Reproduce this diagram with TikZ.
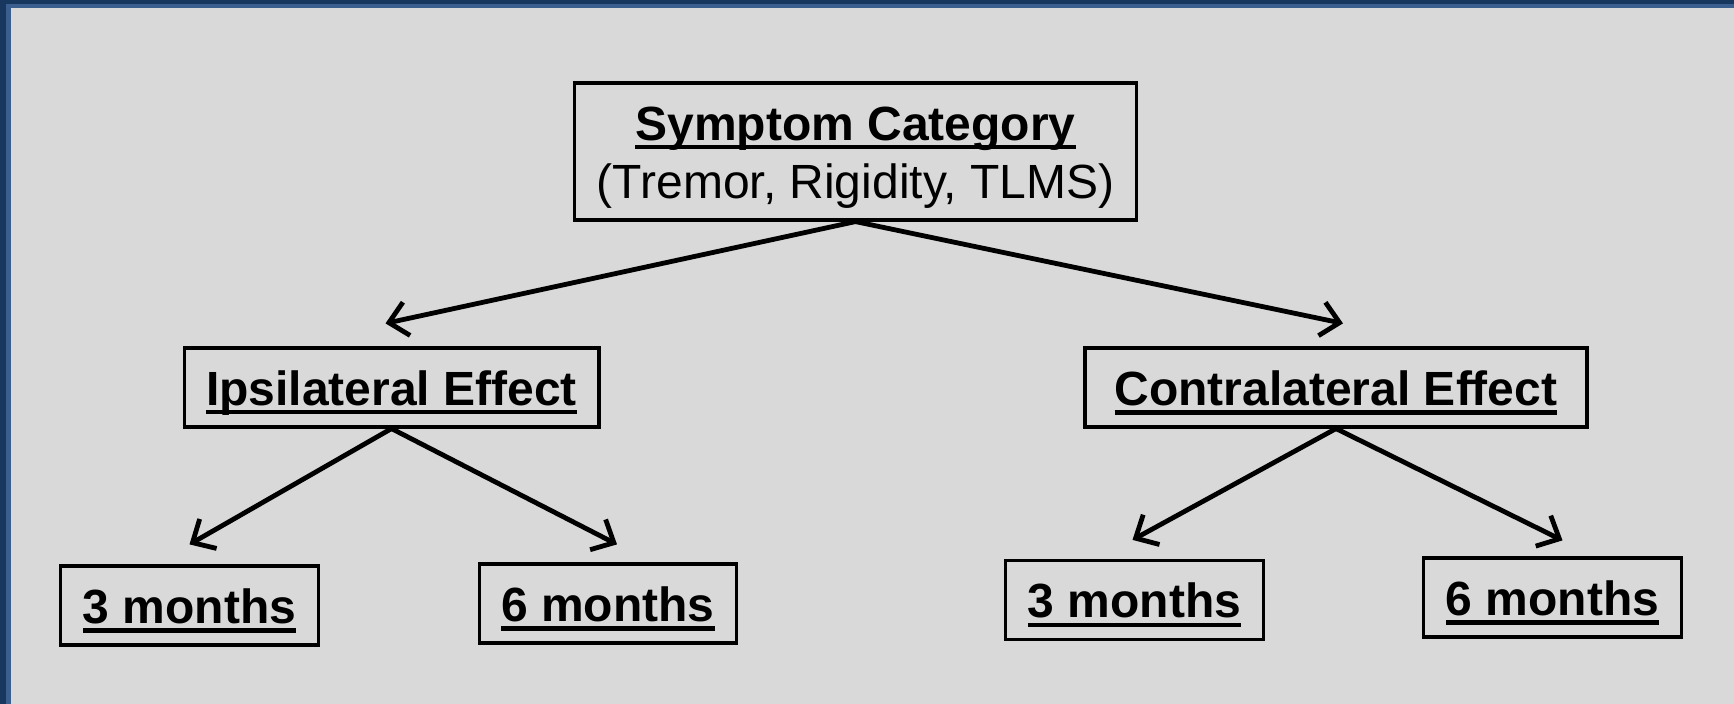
\documentclass[tikz,border=0pt]{standalone}
\usepackage{fontspec}
\setmainfont{Liberation Sans}
\usetikzlibrary{arrows.meta}

\definecolor{slidenavy}{HTML}{17375E}
\definecolor{slideblue}{HTML}{3A5F8E}
\definecolor{slidegrey}{HTML}{D9D9D9}

\newcommand{\heading}[1]{\setbox0\hbox{\bfseries #1}\rlap{\rule[-4.6pt]{\wd0}{2.2pt}}\rule{0pt}{22.6pt}\box0}

\begin{document}
\begin{tikzpicture}[x=0.5pt, y=-0.5pt,
    box/.style={draw=black, line width=1.6pt, rectangle, inner xsep=11pt, inner ysep=0pt,
                minimum height=39.5pt, font=\fontsize{24}{29}\selectfont, align=center},
    link/.style={line width=2.4pt, line cap=round, -{Straight Barb[length=9pt, width=17pt, line width=2.4pt]}}]
    % background and slide frame
    \fill[slidenavy] (0,0) rectangle (1734,704);
    \fill[slideblue] (6,4) rectangle (1734,704);
    \fill[slidegrey] (11,8) rectangle (1734,704);
    \useasboundingbox (0,0) rectangle (1734,704);

    \node[box, minimum height=68.5pt] (category) at (855.5,151.5)
        {\heading{Symptom Category}\\(Tremor, Rigidity, TLMS)};
    \node[box] (ipsi) at (391.5,387.5) {\heading{Ipsilateral Effect}};
    \node[box, minimum width=251pt] (contra) at (1336,387.5) {\heading{Contralateral Effect}};
    \node[box] (ipsithree) at (189.5,605.5) {\heading{3 months}};
    \node[box] (ipsisix) at (608,603.5) {\heading{6 months}};
    \node[box] (contrathree) at (1134.5,600) {\heading{3 months}};
    \node[box] (contrasix) at (1552.5,597.5) {\heading{6 months}};

    \draw[link] (category.south) -- ([xshift=-3pt, yshift=11.5pt]ipsi.north);
    \draw[link] (category.south) -- ([xshift=3.5pt, yshift=11.5pt]contra.north);
    \draw[link] (ipsi.south) -- ([yshift=10pt]ipsithree.north);
    \draw[link] (ipsi.south) -- ([xshift=4.5pt, yshift=9pt]ipsisix.north);
    \draw[link] (contra.south) -- ([xshift=-1pt, yshift=9.5pt]contrathree.north);
    \draw[link] (contra.south) -- ([xshift=5pt, yshift=8pt]contrasix.north);
\end{tikzpicture}
\end{document}
